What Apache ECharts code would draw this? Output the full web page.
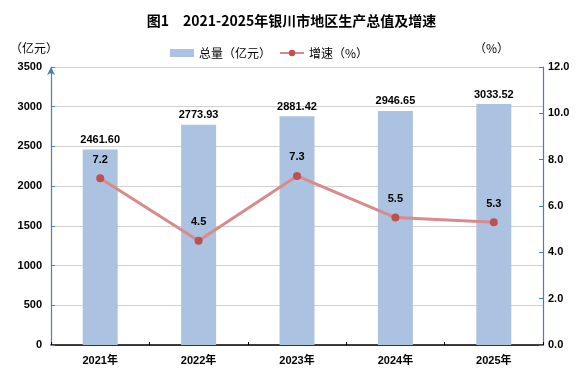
<!DOCTYPE html>
<html><head><meta charset="utf-8">
<script src="https://cdn.jsdelivr.net/npm/echarts@6/dist/echarts.min.js"></script>
<style>html,body{margin:0;padding:0;background:#fff}#c{width:583px;height:385px}</style>
</head><body><div id="c"></div>
<script>
const categories = ['2021年','2022年','2023年','2024年','2025年'];
const totals = [2461.60, 2773.93, 2881.42, 2946.65, 3033.52];
const growth = [7.2, 4.5, 7.3, 5.5, 5.3];
const leftTicks = {min:0, max:3500, interval:500};
const rightTicks = {min:0, max:12, interval:2};

const chart = echarts.init(document.getElementById('c'));
const F = '"Liberation Sans", Arial, "Noto Sans CJK SC", sans-serif';
chart.setOption({
  animation:false,
  textStyle:{fontFamily:F},
  title:{text:'图1　2021-2025年银川市地区生产总值及增速', left:'center', top:9,
    textStyle:{fontSize:14, fontWeight:'bold', color:'#000', fontFamily:'"Noto Sans CJK SC", sans-serif'}},
  legend:{top:42, left:165, itemGap:8, itemWidth:24, itemHeight:8,
    textStyle:{fontSize:12, color:'#000', fontFamily:'"Noto Sans CJK SC", sans-serif'},
    data:[{name:'总量（亿元）', icon:'rect'}, {name:'增速（%）'}]},
  graphic:[
    {type:'text', left:10, top:42, style:{text:'（亿元）', fill:'#000', font:'12px "Noto Sans CJK SC"'}},
    {type:'text', left:474, top:42, style:{text:'（%）', fill:'#000', font:'12px "Noto Sans CJK SC"'}}
  ],
  grid:{left:51, right:40, top:67, bottom:40},
  xAxis:{type:'category', data:categories,
    axisLine:{lineStyle:{color:'#000', width:1.5}},
    axisTick:{show:true, inside:true, length:3, lineStyle:{color:'#000'}},
    axisLabel:{fontSize:11, fontWeight:'bold', color:'#000', margin:10}},
  yAxis:[
    {type:'value', min:leftTicks.min, max:leftTicks.max, interval:leftTicks.interval,
      axisLine:{show:true, symbol:['none','arrow'], symbolSize:[6,8], lineStyle:{color:'#4A7EBB', width:1.2}},
      axisTick:{show:true, inside:true, length:4, lineStyle:{color:'#4A7EBB'}},
      axisLabel:{fontSize:11, fontWeight:'bold', color:'#000', margin:9, formatter:v=>String(v)},
      splitLine:{lineStyle:{color:'#D0D0D0'}}},
    {type:'value', min:rightTicks.min, max:rightTicks.max, interval:rightTicks.interval,
      axisLine:{show:true, lineStyle:{color:'#4A7EBB', width:1.2}},
      axisTick:{show:true, inside:true, length:4, lineStyle:{color:'#4A7EBB'}},
      axisLabel:{fontSize:11, fontWeight:'bold', color:'#000', margin:5, formatter:v=>v.toFixed(1)},
      splitLine:{show:false}}
  ],
  series:[
    {name:'总量（亿元）', type:'bar', data:totals, barWidth:35, itemStyle:{color:'#ABC3E0'},
      label:{show:true, position:'top', distance:4, fontSize:11, fontWeight:'bold', color:'#000',
        formatter:p=>p.value.toFixed(2)}},
    {name:'增速（%）', type:'line', yAxisIndex:1, data:growth, symbol:'circle', symbolSize:8,
      lineStyle:{color:'#D98A8A', width:3}, itemStyle:{color:'#C0504D'},
      label:{show:true, position:'top', distance:9, fontSize:11, fontWeight:'bold', color:'#000',
        formatter:p=>p.value.toFixed(1)}}
  ]
});
</script></body></html>
